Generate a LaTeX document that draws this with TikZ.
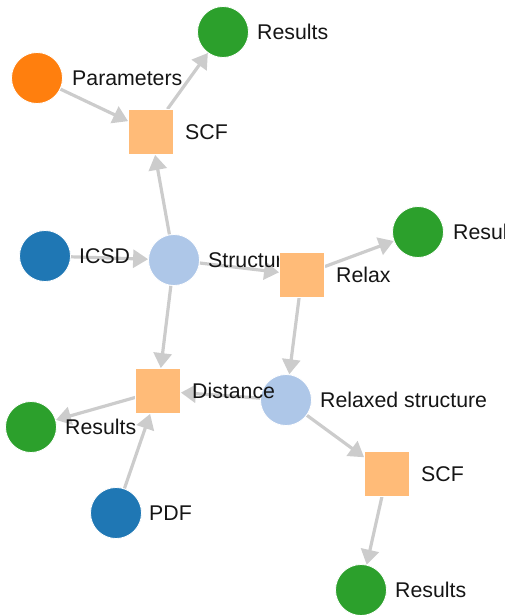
\documentclass[tikz,border=0pt]{standalone}
\usepackage{fontspec}
\setmainfont{Liberation Sans}
\usetikzlibrary{arrows.meta}

\definecolor{cblue}{HTML}{1F77B4}
\definecolor{clightblue}{HTML}{AEC7E8}
\definecolor{corange}{HTML}{FF7F0E}
\definecolor{clightorange}{HTML}{FFBB78}
\definecolor{cgreen}{HTML}{2CA02C}
\definecolor{cedge}{HTML}{CCCCCC}
\definecolor{ctext}{HTML}{151515}

\begin{document}
\begin{tikzpicture}[x=1pt,y=-1pt,
  dot/.style={circle,minimum size=51pt,inner sep=0pt,draw=white,line width=0.8pt},
  box/.style={rectangle,minimum size=45pt,inner sep=0pt,draw=white,line width=0.8pt,fill=clightorange},
  tag/.style={anchor=west,inner sep=0pt,text=ctext,font=\fontsize{21.3}{25}\selectfont},
  link/.style={draw=cedge,line width=3.2pt,-{Triangle[length=15pt,width=18pt]}}
]
\useasboundingbox (0,0) rectangle (504,615);

% centres of the nodes
\path
  (223,32)   coordinate (pRes1)
  (37,78)    coordinate (pPar)
  (151,132)  coordinate (pSCF1)
  (45,256)   coordinate (pICSD)
  (174,260)  coordinate (pStr)
  (302,275)  coordinate (pRelax)
  (418,232)  coordinate (pRes2)
  (158,391)  coordinate (pDist)
  (286,400)  coordinate (pRelStr)
  (31,427)   coordinate (pRes3)
  (116,513)  coordinate (pPDF)
  (387,474)  coordinate (pSCF2)
  (361,590)  coordinate (pRes4);

% invisible outlines that clip the links at node borders
\begin{scope}[every node/.append style={draw=none,fill=none}]
\node[dot] (Res1) at (pRes1) {};
\node[dot] (Par) at (pPar) {};
\node[box,fill=none] (SCF1) at (pSCF1) {};
\node[dot] (ICSD) at (pICSD) {};
\node[dot] (Str) at (pStr) {};
\node[box,fill=none] (Relax) at (pRelax) {};
\node[dot] (Res2) at (pRes2) {};
\node[box,fill=none] (Dist) at (pDist) {};
\node[dot] (RelStr) at (pRelStr) {};
\node[dot] (Res3) at (pRes3) {};
\node[dot] (PDF) at (pPDF) {};
\node[box,fill=none] (SCF2) at (pSCF2) {};
\node[dot] (Res4) at (pRes4) {};
\end{scope}

% links
\draw[link] (Par) -- (SCF1);
\draw[link] (SCF1) -- (Res1);
\draw[link] (Str) -- (SCF1);
\draw[link] (ICSD) -- (Str);
\draw[link] (Str) -- (Relax);
\draw[link] (Relax) -- (Res2);
\draw[link] (Relax) -- (RelStr);
\draw[link] (Str) -- (Dist);
\draw[link] (RelStr) -- (Dist);
\draw[link] (Dist) -- (Res3);
\draw[link] (PDF) -- (Dist);
\draw[link] (RelStr) -- (SCF2);
\draw[link] (SCF2) -- (Res4);

% visible nodes with their labels, in drawing order
\node[dot,fill=cgreen] (dRes1) at (pRes1) {};
\node[tag,xshift=34pt] (lRes1) at (pRes1) {Results};
\node[dot,fill=corange] (dPar) at (pPar) {};
\node[tag,xshift=35pt] (lPar) at (pPar) {Parameters};
\node[box] (dSCF1) at (pSCF1) {};
\node[tag,xshift=34pt] (lSCF1) at (pSCF1) {SCF};
\node[dot,fill=cblue] (dICSD) at (pICSD) {};
\node[tag,xshift=34pt] (lICSD) at (pICSD) {ICSD};
\node[dot,fill=clightblue] (dStr) at (pStr) {};
\node[tag,xshift=34pt] (lStr) at (pStr) {Structure};
\node[box] (dRelax) at (pRelax) {};
\node[tag,xshift=34pt] (lRelax) at (pRelax) {Relax};
\node[dot,fill=cgreen] (dRes2) at (pRes2) {};
\node[tag,xshift=35pt] (lRes2) at (pRes2) {Results};
\node[dot,fill=clightblue] (dRelStr) at (pRelStr) {};
\node[tag,xshift=34pt] (lRelStr) at (pRelStr) {Relaxed structure};
\node[box] (dDist) at (pDist) {};
\node[tag,xshift=34pt] (lDist) at (pDist) {Distance};
\node[dot,fill=cgreen] (dRes3) at (pRes3) {};
\node[tag,xshift=34pt] (lRes3) at (pRes3) {Results};
\node[dot,fill=cblue] (dPDF) at (pPDF) {};
\node[tag,xshift=33pt] (lPDF) at (pPDF) {PDF};
\node[box] (dSCF2) at (pSCF2) {};
\node[tag,xshift=34pt] (lSCF2) at (pSCF2) {SCF};
\node[dot,fill=cgreen] (dRes4) at (pRes4) {};
\node[tag,xshift=34pt] (lRes4) at (pRes4) {Results};
\end{tikzpicture}
\end{document}
